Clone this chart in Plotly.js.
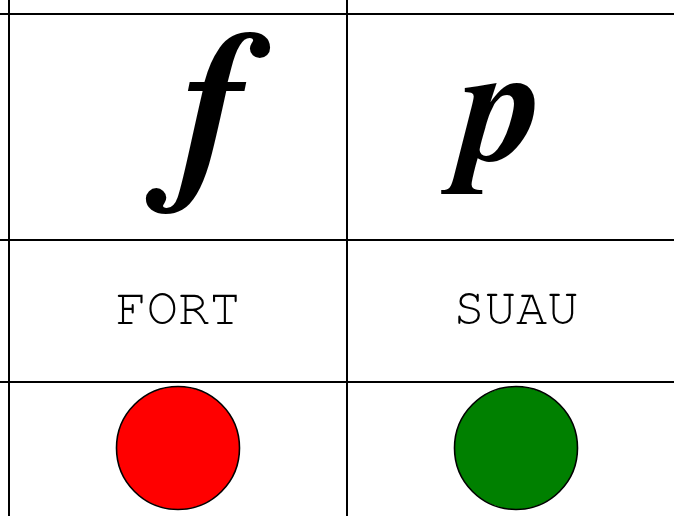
<!DOCTYPE html>
<html>
<head>
<meta charset="utf-8">
<script src="https://cdn.plot.ly/plotly-3.0.1.min.js"></script>
<style>
html,body{margin:0;padding:0;background:#fff;}
#chart{width:674px;height:516px;}
</style>
</head>
<body>
<div id="chart"></div>
<script>
// Data
var columns = [0.5, 1.5];
var dynamics = ['\uD834\uDD91', '\uD834\uDD8F'];   // musical forte, piano symbols
var labels = ['FORT', 'SUAU'];
var lightColors = ['#ff0000', '#008000'];
var rowEdges = [0, 226, 368, 520];
var colEdges = [0, 1, 2];

var rowLabelY = (rowEdges[1] + rowEdges[2]) / 2;
var rowLightY = 434;
var rowSymbolY = (rowEdges[0] + rowEdges[1]) / 2;

var traces = [
  {
    type: 'scatter',
    mode: 'text',
    x: columns,
    y: columns.map(function(){ return rowLabelY; }),
    text: labels,
    textposition: 'middle center',
    textfont: {family: 'FreeMono, "Courier New", monospace', size: 52, color: '#000'},
    hoverinfo: 'skip',
    showlegend: false
  },
  {
    type: 'scatter',
    mode: 'markers',
    x: columns,
    y: columns.map(function(){ return rowLightY; }),
    marker: {size: 123, color: lightColors, line: {color: '#000', width: 1.6}},
    hoverinfo: 'skip',
    showlegend: false
  }
];

var symbolShift = [30, -24];
var symbolYShift = [22, 23];
var symbolSize = [202, 165];
var annotations = dynamics.map(function(d, i){
  return {
    x: columns[i], y: rowSymbolY, xref: 'x', yref: 'y',
    text: d, showarrow: false,
    xanchor: 'center', yanchor: 'middle',
    xshift: symbolShift[i], yshift: symbolYShift[i],
    font: {family: 'serif', size: symbolSize[i], color: '#000'}
  };
});

var layout = {
  width: 674, height: 516,
  margin: {l: 0, r: 0, t: 0, b: 0, pad: 0},
  paper_bgcolor: '#fff', plot_bgcolor: '#fff',
  showlegend: false,
  xaxis: {
    range: [-9/338, 665/338], tickvals: colEdges, showticklabels: false,
    showgrid: true, gridcolor: '#000', gridwidth: 2, zeroline: false,
    showline: false, ticks: '', fixedrange: true
  },
  yaxis: {
    range: [502, -14], tickvals: rowEdges, showticklabels: false,
    showgrid: true, gridcolor: '#000', gridwidth: 2, zeroline: false,
    showline: false, ticks: '', fixedrange: true
  },
  annotations: annotations
};

Plotly.newPlot('chart', traces, layout, {displayModeBar: false, staticPlot: true});
</script>
</body>
</html>
